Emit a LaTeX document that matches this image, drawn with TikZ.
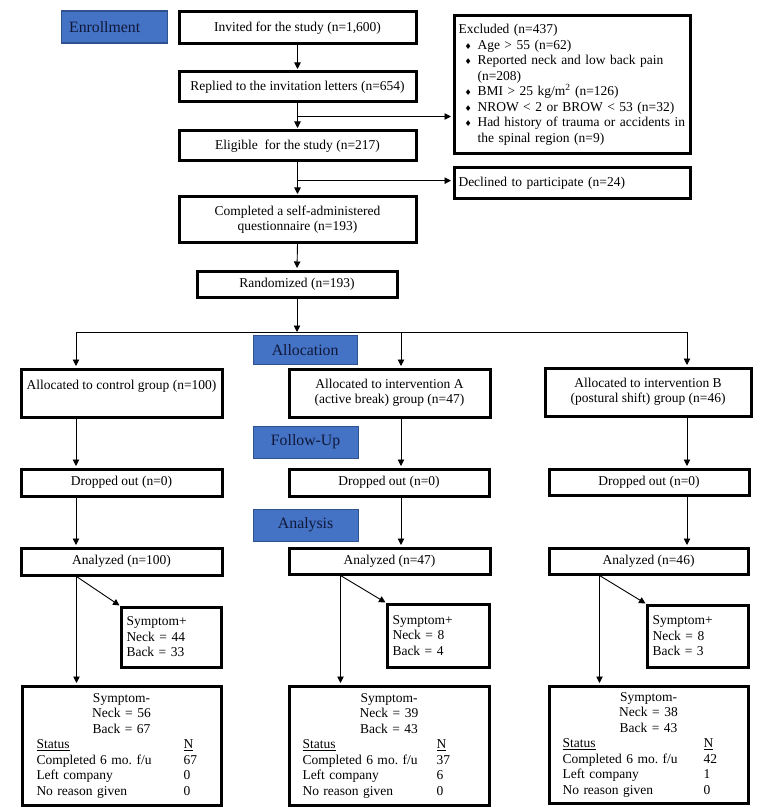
\documentclass[tikz,border=0pt]{standalone}
\usepackage{fontspec}
\setmainfont{Liberation Serif}
\newfontfamily\symf{DejaVu Sans}
\usetikzlibrary{arrows.meta,calc}
\frenchspacing
\definecolor{lblfill}{HTML}{4472C4}
\definecolor{lbldraw}{HTML}{2F528F}
\definecolor{lbltext}{HTML}{10183A}
\tikzset{
  box/.style={draw, line width=3pt, inner sep=0pt, font=\fontsize{13.5}{15.5}\selectfont, align=center},
  lbl/.style={draw=lbldraw, fill=lblfill, line width=1.2pt, inner sep=0pt, font=\fontsize{15.8}{18}\selectfont, text=lbltext},
  conn/.style={line width=0.9pt},
  arr/.style={conn, -{Triangle[length=6.5pt,width=6.5pt]}, shorten >=1.5pt},
}
% #1 style, #2 name, #3 x1, #4 y1, #5 x2, #6 y2 (outer edges), #7 text
\newcommand\bx[7][box]{%
  \node[#1, anchor=north west, minimum width={#5-#3-3}, minimum height={#6-#4-3}] (#2) at ({#3+1.5},{#4+1.5}) {#7};}
\newcommand\bul{\makebox[19pt][l]{\hspace{6pt}{\symf\fontsize{8}{8}\selectfont ♦}}}
\newcommand\ind{\hspace*{19pt}}
% #1 width, #2 neck, #3 back, #4 status offset, #5 N offset, #6-#8 values
\newcommand\smtext[8]{%
  \makebox[#1pt][c]{Symptom-}\\
  \makebox[#1pt][c]{Neck = #2}\\
  \makebox[#1pt][c]{Back = #3}\\
  \hspace*{#4pt}\makebox[#5pt][l]{\underline{Status}}\underline{N}\\
  \hspace*{#4pt}\makebox[#5pt][l]{Completed 6 mo. f/u}#6\\
  \hspace*{#4pt}\makebox[#5pt][l]{Left company}#7\\
  \hspace*{#4pt}\makebox[#5pt][l]{No reason given}#8}
\begin{document}
\begin{tikzpicture}[x=1pt,y=-1pt]
\fill[white] (0,0) rectangle (763,810);
\useasboundingbox (0,0) rectangle (763,810);

% phase labels
\bx[lbl, align=left, text width=90pt, inner xsep=8pt]{enr}{59}{9}{167}{44}{Enrollment}
\bx[lbl]{alo}{251}{333}{358}{365}{Allocation}
\bx[lbl]{fol}{251}{424}{359}{459}{Follow-Up}
\bx[lbl]{anl}{251}{507}{359}{542}{Analysis}

% enrollment boxes
\bx{inv}{176}{9}{416}{44}{Invited for the study (n=1,600)}
\bx{rep}{176}{69}{416}{102}{Replied to the invitation letters (n=654)}
\bx{eli}{176}{128}{416}{161}{Eligible\ \ for the study (n=217)}
\bx{comp}{176}{194}{416}{242}{Completed a self-administered\\questionnaire (n=193)}
\bx{rand}{194}{268}{397}{297}{Randomized (n=193)}
\bx[box, align=left, text width=227pt, inner xsep=4.5pt]{exc}{451}{13}{690}{154}{%
Excluded (n=437)\\
\bul Age > 55 (n=62)\\
\bul Reported neck and low back pain\\
\ind (n=208)\\
\bul BMI > 25 kg/m\textsuperscript{2} (n=126)\\
\bul NROW < 2 or BROW < 53 (n=32)\\
\bul Had history of trauma or accidents in\\
\ind the spinal region (n=9)}
\bx[box, align=left, text width=227pt, inner xsep=4.5pt]{dec}{451}{165}{690}{199}{Declined to participate (n=24)}

% allocation
\bx{al1}{18}{366}{222}{417}{Allocated to control group (n=100)\\\mbox{}}
\bx{al2}{286}{366}{490}{417}{Allocated to intervention A\\(active break) group (n=47)}
\bx{al3}{542}{365}{751}{416}{Allocated to intervention B\\(postural shift) group (n=46)}

% follow-up
\bx{dr1}{18}{466}{222}{496}{Dropped out (n=0)}
\bx{dr2}{286}{466}{489}{496}{Dropped out (n=0)}
\bx{dr3}{546}{466}{749}{495}{Dropped out (n=0)}

% analysis
\bx{an1}{18}{545}{222}{575}{Analyzed (n=100)}
\bx{an2}{286}{545}{490}{574}{Analyzed (n=47)}
\bx{an3}{546}{545}{748}{574}{Analyzed (n=46)}

\bx[box, align=left, text width=89pt, inner xsep=5.5pt]{sp1}{118}{604}{221}{667}{Symptom+\\Neck = 44\\Back = 33}
\bx[box, align=left, text width=91pt, inner xsep=5.5pt]{sp2}{384}{601}{489}{667}{Symptom+\\Neck = 8\\Back = 4}
\bx[box, align=left, text width=90pt, inner xsep=5.5pt]{sp3}{644}{602}{748}{667}{Symptom+\\Neck = 8\\Back = 3}

\bx[box, align=left, text width=199pt, inner xsep=0pt]{sm1}{19}{683}{221}{805}{\smtext{199}{56}{67}{14.5}{147}{67}{0}{0}}
\bx[box, align=left, text width=200pt, inner xsep=0pt]{sm2}{286}{683}{489}{805}{\smtext{200}{39}{43}{13.5}{134}{37}{6}{0}}
\bx[box, align=left, text width=199pt, inner xsep=0pt]{sm3}{546}{683}{748}{803}{\smtext{199}{38}{43}{13.5}{141}{42}{1}{0}}

% enrollment connectors
\draw[arr] (inv.south) -- (rep.north);
\draw[arr] (rep.south) -- (eli.north);
\draw[arr] (eli.south) -- (comp.north);
\draw[arr] (comp.south) -- (rand.north);
\coordinate (j1) at ($(rep.south)!0.5!(eli.north)$);
\coordinate (j2) at ($(eli.south)!0.55!(comp.north)$);
\draw[arr] (j1) -- (j1 -| exc.west);
\draw[arr] (j2) -- (j2 -| dec.west);

% branching
\coordinate (bc) at (rand.south |- 0,332);
\coordinate (bl) at (76,332);
\coordinate (bm) at (401,332);
\coordinate (bR) at (687,332);
\draw[arr, shorten >=0pt] (rand.south) -- (bc);
\draw[conn] (bl) -- (bR);
\draw[arr] (bl) -- (bl |- al1.north);
\draw[arr] (bm) -- (bm |- al2.north);
\draw[arr] (bR) -- (bR |- al3.north);
\draw[arr] (bl |- al1.south) -- (bl |- dr1.north);
\draw[arr] (bm |- al2.south) -- (bm |- dr2.north);
\draw[arr] (bR |- al3.south) -- (bR |- dr3.north);
\draw[arr] (bl |- dr1.south) -- (bl |- an1.north);
\draw[arr] (bm |- dr2.south) -- (bm |- an2.north);
\draw[arr] (bR |- dr3.south) -- (bR |- an3.north);

% analysis split
\coordinate (c1) at ([xshift=57pt]an1.south west);
\coordinate (c2) at ([xshift=53pt]an2.south west);
\coordinate (c3) at ([xshift=52pt]an3.south west);
\draw[arr] (c1) -- (c1 |- sm1.north);
\draw[arr] (c2) -- (c2 |- sm2.north);
\draw[arr] (c3) -- (c3 |- sm3.north);
\draw[arr, shorten >=0pt] (c1) -- (sp1.north west);
\draw[arr, shorten >=0pt] (c2) -- (sp2.north west);
\draw[arr, shorten >=0pt] (c3) -- (sp3.north west);
\end{tikzpicture}
\end{document}
